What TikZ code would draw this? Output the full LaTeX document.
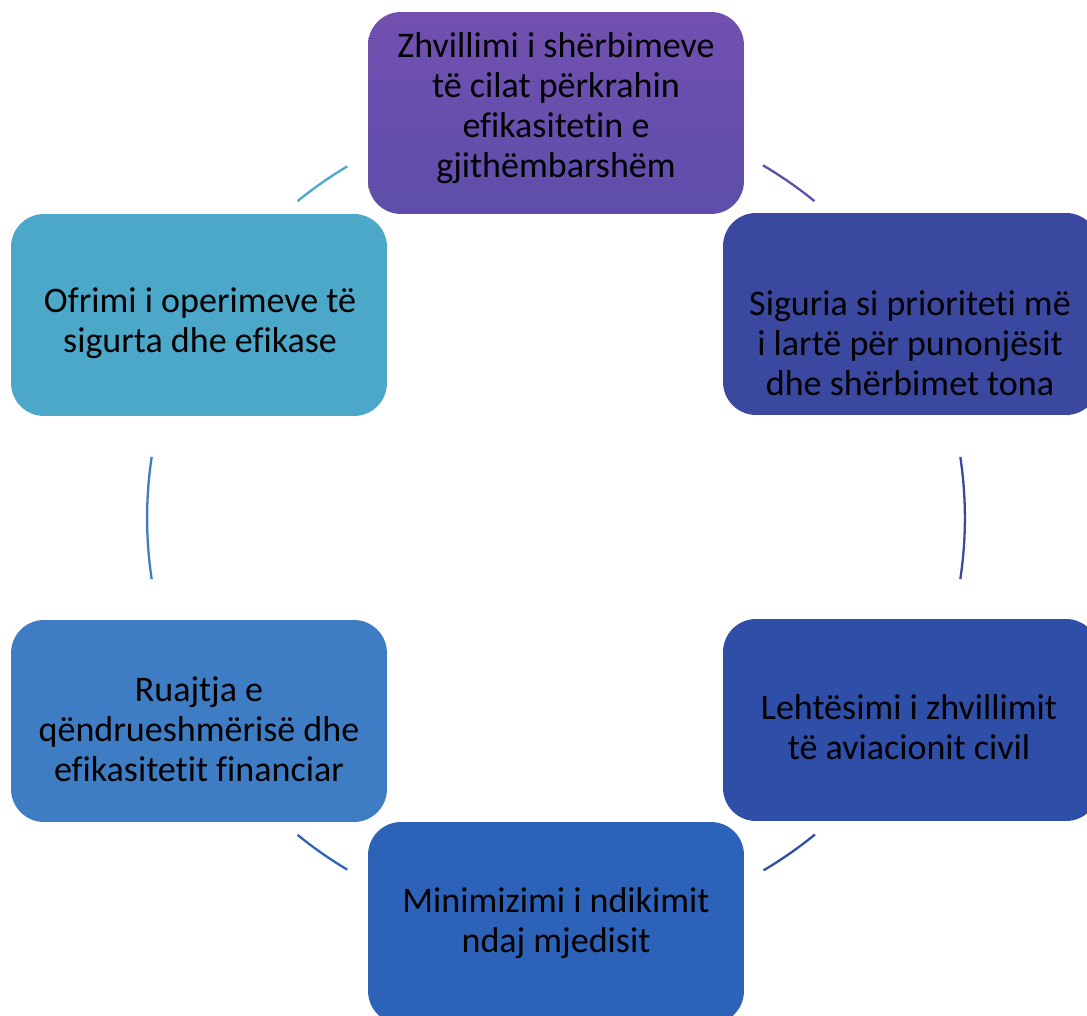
\documentclass[tikz,border=0pt]{standalone}
\usepackage{fontspec}
\setmainfont{Carlito}[Ligatures=NoCommon]
\definecolor{zhvtop}{RGB}{114,80,176}
\definecolor{zhvcol}{RGB}{94,78,170}
\definecolor{sigcol}{RGB}{58,72,160}
\definecolor{lehcol}{RGB}{46,78,168}
\definecolor{mincol}{RGB}{45,98,185}
\definecolor{ruajcol}{RGB}{62,125,195}
\definecolor{ofrcol}{RGB}{76,168,200}
\begin{document}
\begin{tikzpicture}[x=0.02cm,y=-0.02cm,
  box/.style={rounded corners=0.66cm, minimum width=7.52cm, minimum height=4.04cm, inner sep=0pt},
  txt/.style={align=center, text=black, font=\fontsize{20.5}{22.8}\selectfont},
  ring/.style={line width=1.3pt}]
\clip (0,0) rectangle (1087,1016);
\fill[white] (0,0) rectangle (1087,1016);
\coordinate (c) at (556,518);

% boxes
\node[box, top color=zhvtop, bottom color=zhvcol] (zhv) at (556,113) {};
\node[box, fill=sigcol] (sig) at (911,314) {};
\node[box, fill=lehcol] (leh) at (911,720) {};
\node[box, fill=mincol] (min) at (556,923) {};
\node[box, fill=ruajcol] (ruaj) at (199,721) {};
\node[box, fill=ofrcol] (ofr) at (199,315) {};

% texts
\node[txt] (zhvt) at (556,108) {Zhvillimi i shërbimeve\\të cilat përkrahin\\efikasitetin e\\gjithëmbarshëm};
\node[txt] (sigt) at (910,343) {Siguria si prioriteti më\\i lartë për punonjësit\\dhe shërbimet tona};
\node[txt] (leht) at (909,727) {Lehtësimi i zhvillimit\\të aviacionit civil};
\node[txt] (mint) at (556,923) {Minimizimi i ndikimit\\ndaj mjedisit};
\node[txt] (ruajt) at (199,729) {Ruajtja e\\qëndrueshmërisë dhe\\efikasitetit financiar};
\node[txt] (ofrt) at (200,323) {Ofrimi i operimeve të\\sigurta dhe efikase};

% arcs of the cycle
\draw[ring, draw=ofrcol] (c) ++(120.7:8.18cm) arc (120.7:129.2:8.18cm);
\draw[ring, draw=zhvcol] (c) ++(50.8:8.18cm) arc (50.8:59.6:8.18cm);
\draw[ring, draw=sigcol] (c) ++(-8.6:8.18cm) arc (-8.6:8.6:8.18cm);
\draw[ring, draw=lehcol] (c) ++(-59.5:8.18cm) arc (-59.5:-50.7:8.18cm);
\draw[ring, draw=mincol] (c) ++(-129.2:8.18cm) arc (-129.2:-120.7:8.18cm);
\draw[ring, draw=ruajcol] (c) ++(171.4:8.18cm) arc (171.4:188.6:8.18cm);

\end{tikzpicture}
\end{document}
